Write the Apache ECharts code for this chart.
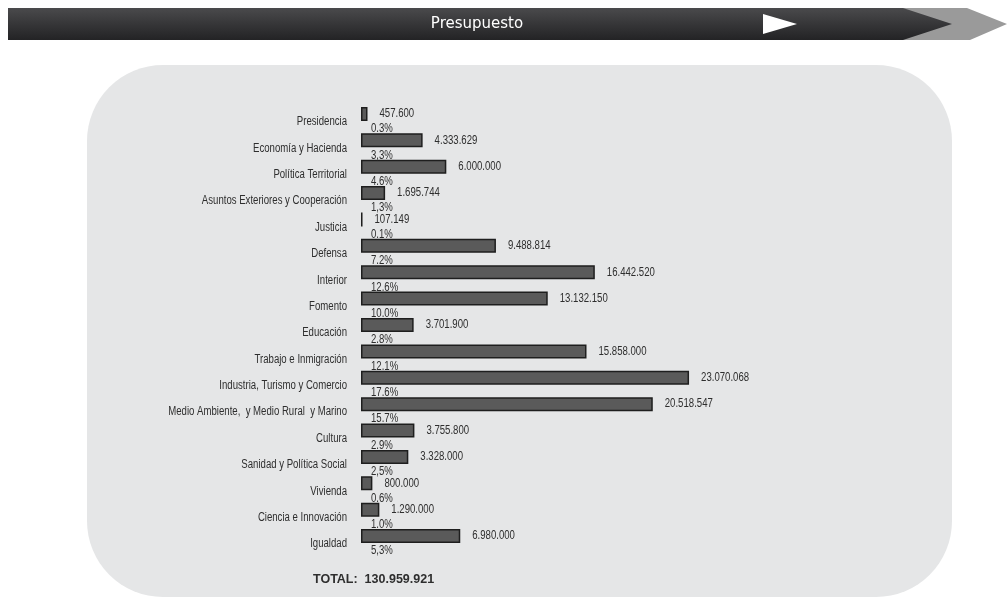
<!DOCTYPE html>
<html>
<head>
<meta charset="utf-8">
<script src="https://cdn.jsdelivr.net/npm/echarts@6/dist/echarts.min.js"></script>
<style>
html,body{margin:0;padding:0;background:#fff;}
#c{width:1007px;height:599px;}
</style>
</head>
<body>
<div id="c"></div>
<script>
var title = 'Presupuesto';
var categories = ['Presidencia','Economía y Hacienda','Política Territorial','Asuntos Exteriores y Cooperación','Justicia','Defensa','Interior','Fomento','Educación','Trabajo e Inmigración','Industria, Turismo y Comercio','Medio Ambiente,  y Medio Rural  y Marino','Cultura','Sanidad y Política Social','Vivienda','Ciencia e Innovación','Igualdad'];
var values = [457600,4333629,6000000,1695744,107149,9488814,16442520,13132150,3701900,15858000,23070068,20518547,3755800,3328000,800000,1290000,6980000];
var percents = ['0.3%','3,3%','4.6%','1,3%','0.1%','7.2%','12.6%','10.0%','2.8%','12.1%','17.6%','15.7%','2.9%','2,5%','0.6%','1.0%','5,3%'];

function fmt(v){ return String(v).replace(/\B(?=(\d{3})+(?!\d))/g,'.'); }
var total = values.reduce(function(a,b){return a+b;},0);

var TXT = '#2e2e2e';
var FONT = '12px "Liberation Sans", Arial, sans-serif';
var SQUEEZE = 0.8;

function condensedText(x, y, text, align){
  return {type:'text', x:x, y:y, scaleX:SQUEEZE, scaleY:1,
    style:{text:text, x:0, y:0, align:align, verticalAlign:'middle', fill:TXT, font:FONT}};
}

var chart = echarts.init(document.getElementById('c'), null, {renderer:'canvas'});
chart.setOption({
  animation:false,
  backgroundColor:'#ffffff',
  graphic:[
    {type:'rect', z:-10, shape:{x:87,y:65,width:865,height:532,r:76}, style:{fill:'#e5e6e7'}},
    {type:'polygon', z:-5, shape:{points:[[903,8],[967,8],[1007,24],[970,40],[903,40]]}, style:{fill:'#9a9a9a'}},
    {type:'polygon', z:-4, shape:{points:[[8,8],[903,8],[952,24],[903,40],[8,40]]},
      style:{fill:new echarts.graphic.LinearGradient(0,0,0,1,[{offset:0,color:'#4a4a4c'},{offset:0.5,color:'#363638'},{offset:1,color:'#232325'}])}},
    {type:'polygon', z:-3, shape:{points:[[763,14],[797,24],[763,34]]}, style:{fill:'#ffffff'}},
    {type:'text', z:-2, style:{text:title, x:477, y:24, align:'center', verticalAlign:'middle', fill:'#ffffff', font:'15px "DejaVu Sans", sans-serif'}},
    {type:'text', z:5, style:{text:'TOTAL:  '+fmt(total), x:313, y:580, verticalAlign:'middle', fill:TXT, font:'bold 12.5px "Liberation Sans", Arial, sans-serif'}}
  ],
  grid:{left:361, top:100.8, width:355.5, height:448.4, containLabel:false},
  xAxis:{type:'value', min:0, max:25000000, show:false, splitLine:{show:false}},
  yAxis:{
    type:'category', inverse:true, data:categories,
    axisLine:{show:false}, axisTick:{show:false}, axisLabel:{show:false}, splitLine:{show:false}
  },
  series:[
    {
      type:'bar', data:values, barWidth:14, z:3,
      itemStyle:{color:'#5a5a5a', borderColor:'#1e1e1e', borderWidth:1.5}
    },
    {
      type:'custom', z:5, clip:false,
      encode:{x:0, y:1},
      data:values.map(function(v,i){return [v,i];}),
      renderItem:function(params, api){
        var idx = api.value(1);
        var end = api.coord([api.value(0), idx]);
        var start = api.coord([0, idx]);
        return {type:'group', children:[
          condensedText(start[0]-14, start[1]+8, categories[idx], 'right'),
          condensedText(end[0]+12, end[1], fmt(values[idx]), 'left'),
          condensedText(start[0]+10, start[1]+15, percents[idx], 'left')
        ]};
      }
    }
  ]
});
</script>
</body>
</html>
